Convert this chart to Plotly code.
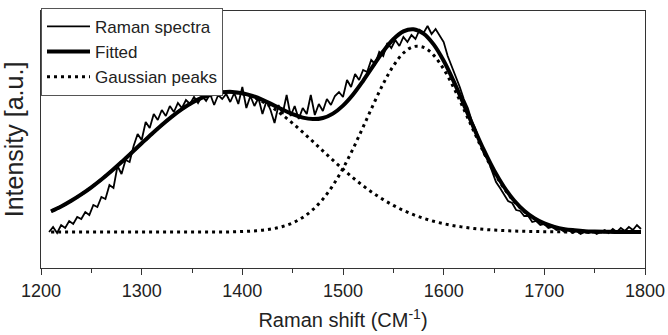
import plotly.graph_objects as go

# Raman shift axis for the measured spectrum (cm^-1)
spec_x = list(range(1208, 1797, 4))
spec_y = [
    0, 5, -1, 7, 4, 11, 8, 15, 13, 20, 17, 27, 25, 35, 33, 47, 44, 66, 58, 72,
    70, 86, 98, 92, 110, 104, 118, 112, 122, 116, 126, 120, 129, 124, 132, 128, 135, 129, 136, 131,
    138, 127, 137, 133, 138, 130, 139, 128, 145, 124, 136, 126, 134, 118, 131, 122, 109, 127, 118, 137,
    116, 126, 113, 124, 118, 137, 117, 128, 121, 133, 127, 136, 140, 135, 152, 145, 158, 152, 162, 160,
    172, 168, 180, 176, 189, 184, 192, 186, 195, 190, 197, 193, 202, 199, 206, 198, 203, 196, 190, 176,
    166, 154, 145, 133, 124, 111, 102, 90, 78, 72, 60, 50, 44, 38, 31, 29, 22, 21, 16, 16,
    10, 11, 7, 8, 4, 5, 2, 3, 0, 2, -1, 1, -2, 0, -1, 1, -2, 0, 2, -1,
    3, 0, 4, 1, 5, 2, 7, 3,
]
assert len(spec_x) == len(spec_y), (len(spec_x), len(spec_y))

# Raman shift axis for the fitted curve and the Gaussian components
fit_x = list(range(1210, 1791, 10)) + [1796]
fit_y = [
    20.7, 25.5, 31.2, 37.6, 44.7, 52.5, 61.0, 70.0, 79.3, 88.7,
    98.0, 107.0, 115.4, 122.9, 129.2, 134.3, 137.8, 139.7, 140.1, 138.8,
    136.1, 132.2, 127.4, 122.4, 117.8, 114.4, 112.9, 114.0, 118.4, 126.4,
    137.5, 151.2, 166.1, 180.7, 192.7, 200.6, 202.7, 198.4, 187.6, 171.2,
    150.6, 127.6, 104.1, 81.8, 61.8, 45.0, 31.5, 21.3, 13.8, 8.6,
    5.1, 2.9, 1.7, 0.8, 0.4, 0.2, 0.1, 0.0, 0.0, 0.0,
]
peak_d = [
    20.7, 25.5, 31.2, 37.6, 44.7, 52.5, 61.0, 70.0, 79.3, 88.7,
    98.0, 107.0, 115.4, 122.9, 129.2, 134.3, 137.8, 139.7, 139.9, 138.3,
    135.1, 130.4, 124.2, 116.9, 108.7, 99.8, 90.6, 81.1, 71.8, 62.8,
    54.2, 46.2, 38.9, 32.4, 26.6, 21.6, 17.3, 13.7, 10.7, 8.3,
    6.3, 4.8, 3.5, 2.6, 1.9, 1.4, 1.0, 0.7, 0.5, 0.3,
    0.2, 0.1, 0.1, 0.0, 0.0, 0.0, 0.0, 0.0, 0.0, 0.0,
]
peak_g = [
    0.0, 0.0, 0.0, 0.0, 0.0, 0.0, 0.0, 0.0, 0.0, 0.0,
    0.0, 0.0, 0.0, 0.0, 0.0, 0.0, 0.0, 0.0, 0.2, 0.5,
    1.0, 1.8, 3.2, 5.5, 9.1, 14.6, 22.3, 32.9, 46.6, 63.6,
    83.3, 105.0, 127.2, 148.3, 166.1, 179.0, 185.4, 184.7, 176.9, 162.9,
    144.3, 122.8, 100.6, 79.2, 59.9, 43.6, 30.5, 20.6, 13.3, 8.3,
    4.9, 2.8, 1.6, 0.8, 0.4, 0.2, 0.1, 0.0, 0.0, 0.0,
]
assert len(fit_x) == len(fit_y) == len(peak_d) == len(peak_g)

x_ticks = [1200, 1300, 1400, 1500, 1600, 1700, 1800]

FONT = "Liberation Sans, Arial, sans-serif"
DOT = "3px,4px"

fig = go.Figure()
fig.add_trace(go.Scatter(x=spec_x, y=spec_y, mode="lines", name="Raman spectra",
                         line=dict(color="#000", width=1.8)))
fig.add_trace(go.Scatter(x=fit_x, y=fit_y, mode="lines", name="Fitted",
                         line=dict(color="#000", width=4, shape="spline")))
fig.add_trace(go.Scatter(x=fit_x, y=peak_d, mode="lines", name="Gaussian peaks",
                         legendgroup="g", line=dict(color="#000", width=3, dash=DOT, shape="spline")))
fig.add_trace(go.Scatter(x=fit_x, y=peak_g, mode="lines", name="Gaussian peaks",
                         legendgroup="g", showlegend=False,
                         line=dict(color="#000", width=3, dash=DOT, shape="spline")))

fig.update_layout(
    width=668, height=335,
    margin=dict(l=41, r=23, t=11, b=67, autoexpand=False),
    paper_bgcolor="white", plot_bgcolor="white",
    font=dict(family=FONT, color="#222", size=18),
    showlegend=True,
    legend=dict(x=0, y=1.012, xanchor="left", yanchor="top",
                bgcolor="white", bordercolor="#555", borderwidth=1,
                font=dict(size=17, family=FONT, color="#222"),
                tracegroupgap=0, itemwidth=43),
)
fig.update_xaxes(
    range=[1200, 1800], tickvals=x_ticks, ticktext=[str(v) for v in x_ticks],
    showline=True, linecolor="#333", linewidth=1.3, mirror=True,
    ticks="outside", ticklen=6, tickcolor="#333", tickwidth=1.3,
    minor=dict(ticks="outside", ticklen=4, dtick=50, tickcolor="#333", tickwidth=1.3),
    showgrid=False, zeroline=False, automargin=False,
    tickfont=dict(size=18, family=FONT, color="#222"),
    title=dict(text="Raman shift (CM<sup>-1</sup>)", font=dict(size=20, family=FONT, color="#222"),
               standoff=13),
)
fig.update_yaxes(
    range=[-36, 221], showticklabels=False, ticks="",
    showline=True, linecolor="#333", linewidth=1.3, mirror=True,
    showgrid=False, zeroline=False, automargin=False,
    title=dict(text="Intensity [a.u.]", font=dict(size=25, family=FONT, color="#222"),
               standoff=9),
)

fig.write_html("out.html", config={"displayModeBar": False},
               post_script="document.body.style.margin='0';")
